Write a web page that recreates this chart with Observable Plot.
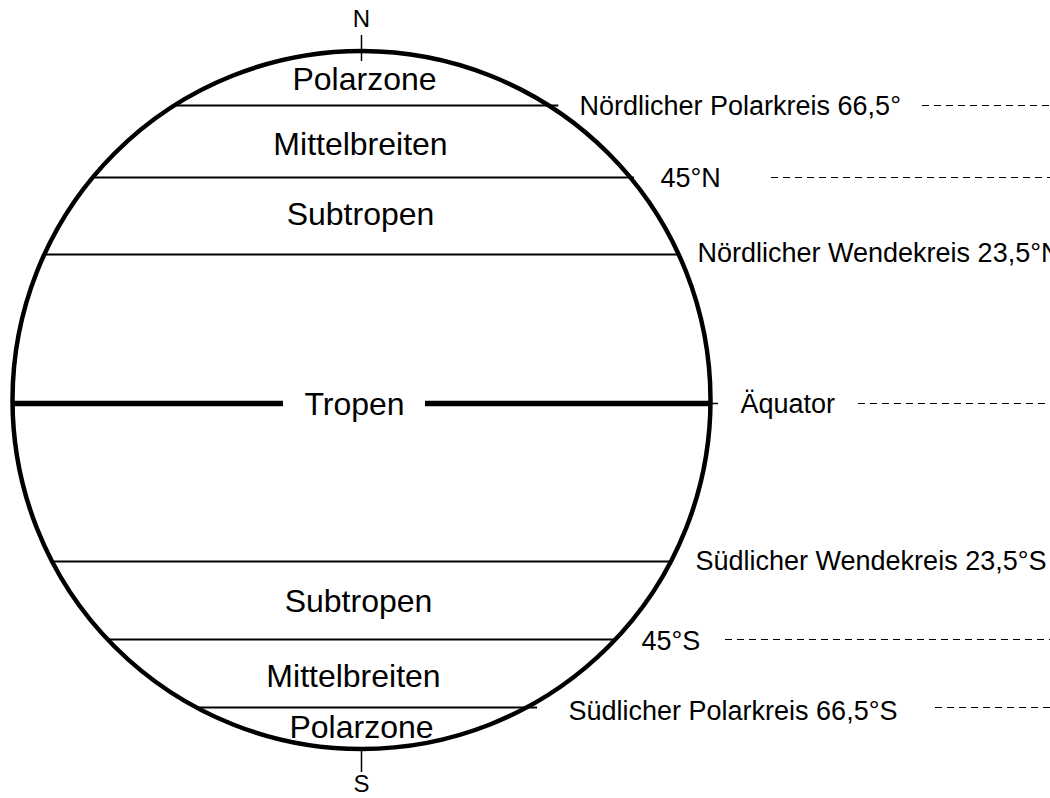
<!DOCTYPE html>
<html>
<head>
<meta charset="utf-8">
<script src="https://cdn.jsdelivr.net/npm/d3@7"></script>
<script src="https://cdn.jsdelivr.net/npm/@observablehq/plot@0.6"></script>
<style>
  html, body { margin: 0; padding: 0; background: #fff; overflow: hidden; }
</style>
</head>
<body>
<div id="chart"></div>
<script>
// ---- data ----
const circleLatitudes = [66.5, 45, 23.5, 0, -23.5, -45, -66.5];
const circleLabels = [
  "Nördlicher Polarkreis 66,5°",
  "45°N",
  "Nördlicher Wendekreis 23,5°N",
  "Äquator",
  "Südlicher Wendekreis 23,5°S",
  "45°S",
  "Südlicher Polarkreis 66,5°S"
];
const hasGuide = [true, true, false, true, false, true, true];
const zoneNames = ["Polarzone", "Mittelbreiten", "Subtropen", "Tropen", "Subtropen", "Mittelbreiten", "Polarzone"];
const zoneLatitudes = [78, 55.2, 34.9, 0, -34.3, -56.4, -77.1];
const poleNames = ["N", "S"];
const poleLatitudes = [90, -90];

// ---- layout ----
const W = 1050, H = 798;
const yStops  = [90, 66.5, 45, 23.5, 0, -23.5, -45, -66.5, -90];
const yPixels = [50, 105, 177, 254, 403, 561, 639, 707, 749];
const globe = {cx: 361, cy: 399.5, r: 349};
const labelX = [579, 660, 697, 740, 695, 641, 568];
const labelDy = [0, 0, -2, 0, -1, 1, 3];
const guideStart = [922, 771, null, 858, null, 725, 935];
const tickLen = [10, 4, 0, 8, 0, 0, 11];
const zoneX = [364, 360, 360, 354, 358, 353, 361];
const equatorGap = [283, 425];
const poleTick = [[-15, 11], [-2, 23]];
const poleDy = [-31, 35];
const font = "'Liberation Sans', Arial, Helvetica, sans-serif";

// latitude -> vertical position (piecewise, as drawn in the diagram)
const yPix = d3.scaleLinear(yStops, yPixels);
const halfWidth = lat => Math.sqrt(Math.max(0, globe.r ** 2 - (yPix(lat) - globe.cy) ** 2));

const thin = [], thick = [], ticks = [], guides = [], labels = [];
circleLatitudes.forEach((lat, i) => {
  const hw = halfWidth(lat);
  const left = globe.cx - hw, right = globe.cx + hw;
  if (lat === 0) {
    thick.push({lat, x1: left, x2: equatorGap[0]});
    thick.push({lat, x1: equatorGap[1], x2: right});
    ticks.push({lat, x1: right, x2: right + tickLen[i]});
  } else {
    thin.push({lat, x1: left, x2: right + tickLen[i]});
  }
  if (hasGuide[i]) guides.push({lat, x1: guideStart[i], x2: W});
  labels.push({lat, x: labelX[i], text: circleLabels[i], dy: labelDy[i]});
});
const zones = zoneNames.map((name, i) => ({name, lat: zoneLatitudes[i], x: zoneX[i]}));
const poles = poleNames.map((name, i) => ({name, lat: poleLatitudes[i], t: poleTick[i], dy: poleDy[i]}));

const Y = d => yPix(d.lat);

const chart = Plot.plot({
  width: W,
  height: H,
  margin: 0,
  x: {type: "identity", axis: null},
  y: {type: "identity", axis: null},
  style: {fontFamily: font, background: "#fff", color: "#000", overflow: "hidden"},
  marks: [
    Plot.ruleY(thin, {y: Y, x1: "x1", x2: "x2", stroke: "#000", strokeWidth: 2}),
    Plot.ruleY(thick, {y: Y, x1: "x1", x2: "x2", stroke: "#000", strokeWidth: 5.5}),
    Plot.ruleY(ticks, {y: Y, x1: "x1", x2: "x2", stroke: "#000", strokeWidth: 1.5}),
    Plot.ruleY(guides, {y: Y, x1: "x1", x2: "x2", stroke: "#000", strokeWidth: 1.2, strokeDasharray: "7,5"}),
    Plot.dot([globe], {x: "cx", y: "cy", r: globe.r, stroke: "#000", strokeWidth: 4.5, fill: "none"}),
    // pole ticks and letters
    Plot.ruleX(poles, {x: () => globe.cx, y1: d => yPix(d.lat) + d.t[0], y2: d => yPix(d.lat) + d.t[1], stroke: "#000", strokeWidth: 1.5}),
    ...poles.map(p => Plot.text([p], {x: () => globe.cx, y: Y, text: "name", dy: p.dy, fontSize: 24, fill: "#000"})),
    // zone names
    Plot.text(zones, {x: "x", y: Y, text: "name", fontSize: 32, fill: "#000", textAnchor: "middle", dy: 1}),
    // right-hand labels
    ...labels.map(d => Plot.text([d], {x: "x", y: Y, text: "text", fontSize: 27, fill: "#000", textAnchor: "start", dy: d.dy + 1}))
  ]
});
document.getElementById("chart").appendChild(chart);
</script>
</body>
</html>
